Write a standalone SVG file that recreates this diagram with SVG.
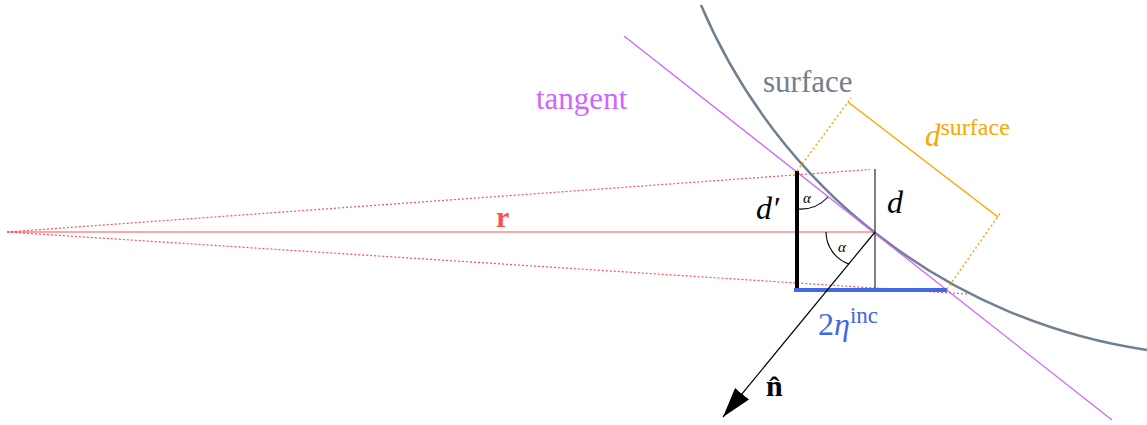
<svg xmlns="http://www.w3.org/2000/svg" width="1147" height="425" viewBox="0 0 1147 425">
<defs>
<style>
text{font-family:"Liberation Serif","Times New Roman",serif;}
.red{stroke:#ff5050;stroke-width:1.2;fill:none}
.reddot{stroke:#ff5050;stroke-width:1.2;stroke-dasharray:2 2;fill:none}
.orange{stroke:#ffa500;stroke-width:1.5;fill:none}
.orangedot{stroke:#ffa500;stroke-width:1.5;stroke-dasharray:2 2.5;fill:none}
.thin{stroke:#000;stroke-width:1.1;fill:none}
.it{font-style:italic}
</style>
<marker id="arrow" markerUnits="userSpaceOnUse" markerWidth="30" markerHeight="18" viewBox="0 0 30 18" refX="30" refY="9" orient="auto">
<path d="M0,0 L30,9 L0,18 z" fill="#000"/>
</marker>
</defs>
<rect width="1147" height="425" fill="#fff"/>
<g id="connectors">
<line class="reddot" x1="7" y1="232" x2="870" y2="169.5"/>
<line class="reddot" x1="7" y1="232" x2="967" y2="294"/>
<line class="red" x1="7" y1="232" x2="875" y2="232"/>
<path d="M701 5 A576 576 0 0 0 1147 350" stroke="#708090" stroke-width="2.5" fill="none"/>
<line x1="624" y1="36" x2="1112" y2="420" stroke="#cc66ff" stroke-width="1.3"/>
<line x1="875" y1="169" x2="875" y2="288" stroke="#555" stroke-width="1.5"/>
<line x1="797" y1="171" x2="797" y2="288" stroke="#000" stroke-width="4"/>
<line x1="794" y1="290" x2="947" y2="290" stroke="#4169e1" stroke-width="4"/>
<line class="orangedot" x1="797" y1="171" x2="851" y2="98"/>
<line class="orangedot" x1="947" y1="289" x2="1001" y2="212"/>
<line class="orange" x1="848" y1="102" x2="998" y2="217"/>
<path class="thin" d="M797 209 A38 38 0 0 0 828 197"/>
<path class="thin" d="M826 232 A34 34 0 0 0 849 264"/>
<line x1="875" y1="232" x2="723" y2="417" stroke="#000" stroke-width="1.2" marker-end="url(#arrow)"/>
</g>
<g id="label-tangent"><text x="536" y="109" font-size="31" fill="#cc66ff">tangent</text></g>
<g id="label-surface"><text x="763" y="92" font-size="31" fill="#708090">surface</text></g>
<g id="label-dsurface"><text x="925" y="146" font-size="31" fill="#ffa500"><tspan class="it">d</tspan><tspan font-size="24" dy="-11">surface</tspan></text></g>
<g id="label-r"><text x="496" y="227" font-size="30" font-weight="bold" fill="#ff4d4d">r</text></g>
<g id="label-dprime"><text x="756" y="219" font-size="32" class="it" fill="#000">d′</text></g>
<g id="label-d"><text x="887" y="213" font-size="32" class="it" fill="#000">d</text></g>
<g id="label-alpha1"><text x="803" y="203" font-size="15" class="it" fill="#000">α</text></g>
<g id="label-alpha2"><text x="838" y="252" font-size="15" class="it" fill="#000">α</text></g>
<g id="label-eta"><text x="818" y="335" font-size="32" fill="#4169e1">2<tspan class="it">η</tspan><tspan font-size="23" dy="-12">inc</tspan></text></g>
<g id="label-n"><text x="766" y="396" font-size="30" font-weight="bold" fill="#000">n̂</text></g>
</svg>
